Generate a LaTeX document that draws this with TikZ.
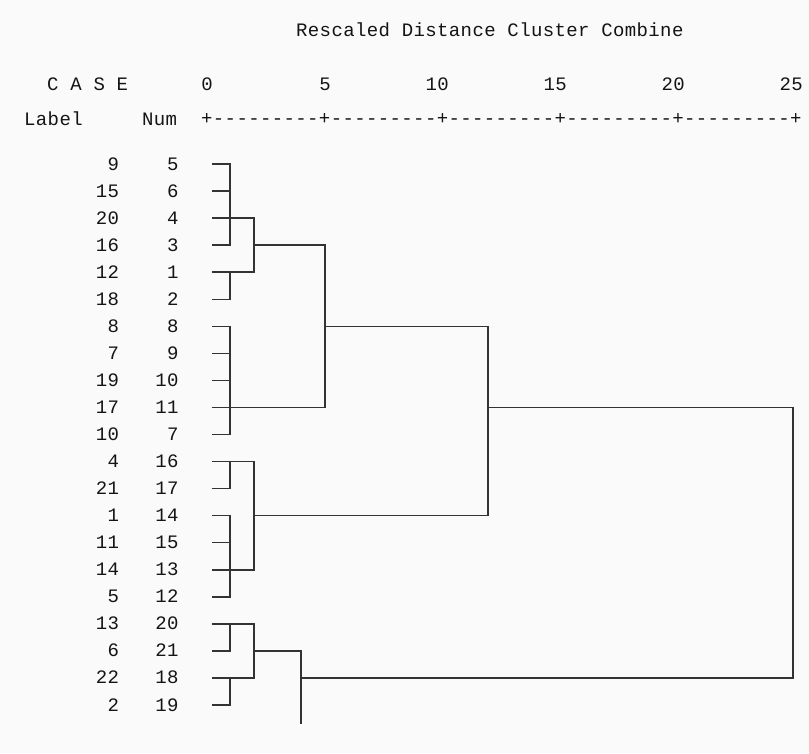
\documentclass[tikz,border=0pt]{standalone}
\usepackage{fontspec}
\setmonofont{Liberation Mono}[LetterSpace=2]
\definecolor{bg}{HTML}{FAFAFA}
\definecolor{ink}{HTML}{141414}
\definecolor{linec}{HTML}{333333}
\begin{document}
\begin{tikzpicture}[x=1pt,y=-1pt,
  txt/.style={font=\ttfamily\fontsize{19}{22}\selectfont, inner sep=0pt, text=ink},
  lab/.style={txt, anchor=base east},
  lft/.style={txt, anchor=base west},
  dl/.style={draw=linec, line width=1.5pt, line cap=rect}]
\fill[bg] (0,0) rectangle (809,753);
\useasboundingbox (0,0) rectangle (809,753);
% header
\node[lft] (title) at (296,36) {Rescaled Distance Cluster Combine};
\node[lft] (case) at (47,90) {C A S E};
\node[lft] (label) at (24,125) {Label};
\node[lft] (num) at (142,125) {Num};
\node[lft] (axis) at (201,124.5) {+---------+---------+---------+---------+---------+};
\foreach \v/\x in {0/213,5/331,10/449,15/567,20/685,25/803}
  \node[lab] (t\v) at (\x,90) {\v};
% rows
\foreach \i/\l/\n in {1/9/5,2/15/6,3/20/4,4/16/3,5/12/1,6/18/2,7/8/8,8/7/9,9/19/10,10/17/11,11/10/7,
  12/4/16,13/21/17,14/1/14,15/11/15,16/14/13,17/5/12,18/13/20,19/6/21,20/22/18,21/2/19} {
  \node[lab] (L\i) at (119.3,{164+(\i-1)*27.05+6}) {\l};
  \node[lab] (N\i) at (178.7,{164+(\i-1)*27.05+6}) {\n};
  \coordinate (s\i) at (213,{164+(\i-1)*27.05});
}
% column positions of the joins
\coordinate (xa) at (230,0);
\coordinate (xb) at (254,0);
\coordinate (xf) at (301,0);
\coordinate (xc) at (325,0);
\coordinate (xd) at (488,0);
\coordinate (xe) at (793,0);
\coordinate (tail) at (301,723);
% leaves
\foreach \i in {1,...,21} \draw[dl] (s\i) -- (s\i -| xa);
\foreach \a/\b in {1/4,5/6,7/11,12/13,14/17,18/19,20/21}
  \draw[dl] (xa |- s\a) -- (xa |- s\b);
\foreach \i in {3,5,12,16,18,20} \draw[dl] (xa |- s\i) -- (xb |- s\i);
\foreach \a/\b in {3/5,12/16,18/20} \draw[dl] (xb |- s\a) -- (xb |- s\b);
% higher joins
\draw[dl] (xa |- s10) -- (xc |- s10);
\draw[dl] (xb |- s4) -- (xc |- s4);
\draw[dl] (xc |- s4) -- (xc |- s10);
\draw[dl] (xc |- s7) -- (xd |- s7);
\draw[dl] (xb |- s14) -- (xd |- s14);
\draw[dl] (xd |- s7) -- (xd |- s14);
\draw[dl] (xb |- s19) -- (xf |- s19) -- (tail);
\draw[dl] (xd |- s10) -- (xe |- s10) -- (xe |- s20) -- (xf |- s20);
\end{tikzpicture}
\end{document}
